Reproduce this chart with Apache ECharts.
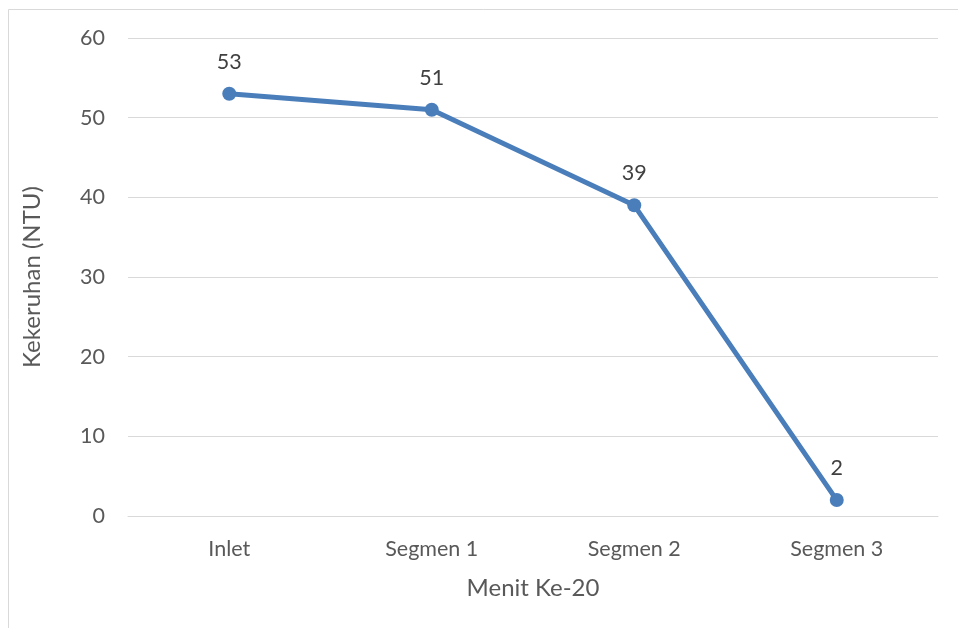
<!DOCTYPE html>
<html>
<head>
<meta charset="utf-8">
<script src="https://cdn.jsdelivr.net/npm/echarts@6/dist/echarts.min.js"></script>
<style>
  html, body { margin: 0; padding: 0; background: #ffffff; }
  #chart { width: 958px; height: 628px; }
</style>
</head>
<body>
<div id="chart"></div>
<script>
// Turbidity (NTU) at minute 20 along the treatment segments
const categories = ['Inlet', 'Segmen 1', 'Segmen 2', 'Segmen 3'];
const turbidity = [53, 51, 39, 2];
const yMin = 0;
const yMax = 60;
const yStep = 10;

const FONT = 'Lato';
const chart = echarts.init(document.getElementById('chart'), null, { renderer: 'canvas' });

chart.setOption({
  backgroundColor: '#ffffff',
  animation: false,
  graphic: [{
    type: 'rect',
    shape: { x: 8.5, y: 9.5, width: 970, height: 640 },
    style: { fill: 'none', stroke: '#d9d9d9', lineWidth: 1 },
    silent: true
  }],
  grid: { left: 128, right: 20, top: 38, bottom: 112, containLabel: false },
  xAxis: {
    type: 'category',
    data: categories,
    boundaryGap: true,
    name: 'Menit Ke-20',
    nameLocation: 'middle',
    nameGap: 60,
    nameTextStyle: { fontFamily: FONT, fontSize: 24, color: '#595959' },
    axisLine: { show: true, lineStyle: { color: '#d9d9d9', width: 1 } },
    axisTick: { show: false },
    axisLabel: { fontFamily: FONT, fontSize: 21.5, color: '#595959', margin: 22 }
  },
  yAxis: {
    type: 'value',
    min: yMin,
    max: yMax,
    interval: yStep,
    name: 'Kekeruhan (NTU)',
    nameLocation: 'middle',
    nameGap: 84,
    nameRotate: 90,
    nameTextStyle: { fontFamily: FONT, fontSize: 24, color: '#595959' },
    axisLine: { show: false },
    axisTick: { show: false },
    axisLabel: { fontFamily: FONT, fontSize: 21.5, color: '#595959', margin: 23 },
    splitLine: { show: true, lineStyle: { color: '#d9d9d9', width: 1 } }
  },
  series: [{
    type: 'line',
    data: turbidity,
    symbol: 'circle',
    symbolSize: 14,
    lineStyle: { color: '#4a7ebb', width: 5 },
    itemStyle: { color: '#4a7ebb' },
    label: {
      show: true,
      position: 'top',
      distance: 14,
      fontFamily: FONT,
      fontSize: 21.5,
      color: '#404040'
    }
  }]
});
</script>
</body>
</html>
